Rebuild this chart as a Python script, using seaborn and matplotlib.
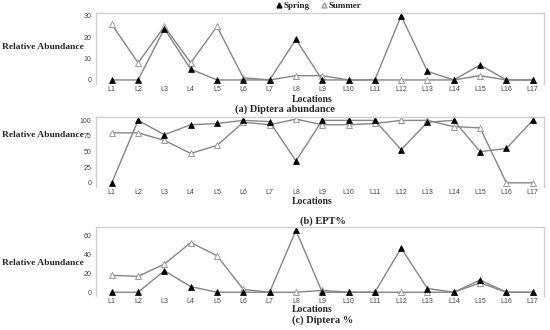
import numpy as np
import pandas as pd
import matplotlib
matplotlib.use("Agg")
import matplotlib.pyplot as plt
import seaborn as sns
from matplotlib.lines import Line2D

sns.set_theme(style="white")
plt.rcParams['font.family'] = ['Liberation Sans', 'DejaVu Sans']

locations = [f"L{i}" for i in range(1, 18)]

dipt_abund_spring = [0, 0, 24, 5, 0, 0, 0, 19, 0, 0, 0, 30, 4, 0, 7, 0, 0]
dipt_abund_summer = [26, 8, 25, 8, 25, 1, 0, 2, 2, 0, 0, 0, 0, 0, 2, 0, 0]

ept_spring = [0, 100, 77, 93, 95, 100, 98, 35, 100, 100, 100, 53, 97, 100, 50, 55, 100]
ept_summer = [80, 80, 68, 47, 60, 97, 93, 102, 93, 93, 95, 100, 100, 90, 88, 0, 0]

dipt_pct_spring = [0, 0, 23, 6, 0, 0, 0, 66, 0, 0, 0, 47, 4, 0, 13, 0, 0]
dipt_pct_summer = [18, 17, 30, 53, 39, 3, 0, 0, 2, 0, 0, 0, 0, 0, 10, 0, 0]

yticks_a = [0, 10, 20, 30]
yticks_b = [0, 25, 50, 75, 100]
yticks_c = [0, 20, 40, 60]

titles = ["(a) Diptera abundance", "(b) EPT%", "(c) Diptera %"]

fig = plt.figure(figsize=(5.5, 3.3), dpi=100)
W, H = 550, 330

def ax_at(l, t, r, b):
    return fig.add_axes([l / W, 1 - b / H, (r - l) / W, (b - t) / H])

panels = [
    dict(box=(96, 13, 544, 84), sp=dipt_abund_spring, su=dipt_abund_summer,
         yt=yticks_a, ylim=(-1.9, 31.3), ylab_y=47, loc_y=99, title_x=285, title_y=109.5),
    dict(box=(96, 117, 544, 187), sp=ept_spring, su=ept_summer,
         yt=yticks_b, ylim=(-6.7, 105.4), ylab_y=135, loc_y=201.5, title_x=323, title_y=221),
    dict(box=(96, 227, 544, 296), sp=dipt_pct_spring, su=dipt_pct_summer,
         yt=yticks_c, ylim=(-4, 69.6), ylab_y=263, loc_y=310, title_x=323, title_y=320.5),
]

serif = ['Liberation Serif', 'DejaVu Serif']
xs = np.arange(len(locations))
line_col = '#858585'

for i, p in enumerate(panels):
    ax = ax_at(*p['box'])
    sns.lineplot(x=xs, y=p['su'], ax=ax, color=line_col, lw=1.0, marker='^',
                 markersize=3.8, markerfacecolor='white', markeredgecolor='#9a9a9a',
                 markeredgewidth=0.7, sort=False)
    sns.lineplot(x=xs, y=p['sp'], ax=ax, color=line_col, lw=1.0, marker='^',
                 markersize=3.8, markerfacecolor='black', markeredgecolor='black',
                 markeredgewidth=0.5, sort=False)
    ax.set_xlim(-0.6, 16.43)
    ax.set_ylim(*p['ylim'])
    ax.set_xticks(xs)
    ax.set_xticklabels(locations)
    ax.set_yticks(p['yt'])
    ax.tick_params(axis='both', labelsize=5, colors='#444444', length=2, width=0.6, pad=1.5)
    ax.tick_params(axis='x', length=0, pad=1.5)
    for s in ['top', 'left', 'right']:
        ax.spines[s].set_color('#cfcfcf')
        ax.spines[s].set_linewidth(1.0)
    ax.spines['bottom'].set_visible(False)
    ax.set_xlabel('')
    ax.set_ylabel('')
    fig.text(2 / W, 1 - p['ylab_y'] / H, "Relative Abundance", family=serif,
             weight='bold', fontsize=6.8, va='center', ha='left')
    fig.text(312 / W, 1 - p['loc_y'] / H, "Locations", family=serif,
             weight='bold', fontsize=7, va='center', ha='center')
    fig.text(p['title_x'] / W, 1 - p['title_y'] / H, titles[i], family=serif,
             weight='bold', fontsize=7.5, va='center', ha='center')

handles = [
    Line2D([], [], ls='none', marker='^', markersize=3.5, markerfacecolor='black',
           markeredgecolor='black'),
    Line2D([], [], ls='none', marker='^', markersize=3.5, markerfacecolor='white',
           markeredgecolor='#9a9a9a'),
]
leg = fig.legend(handles, ["Spring", "Summer"], loc='center', ncol=2,
                 bbox_to_anchor=(318 / W, 1 - 6 / H), frameon=False,
                 prop={'family': serif, 'weight': 'bold', 'size': 6.5},
                 handletextpad=0.1, columnspacing=1.2, handlelength=0.8,
                 borderpad=0)

fig.savefig("out.png", dpi=100, facecolor='white')
